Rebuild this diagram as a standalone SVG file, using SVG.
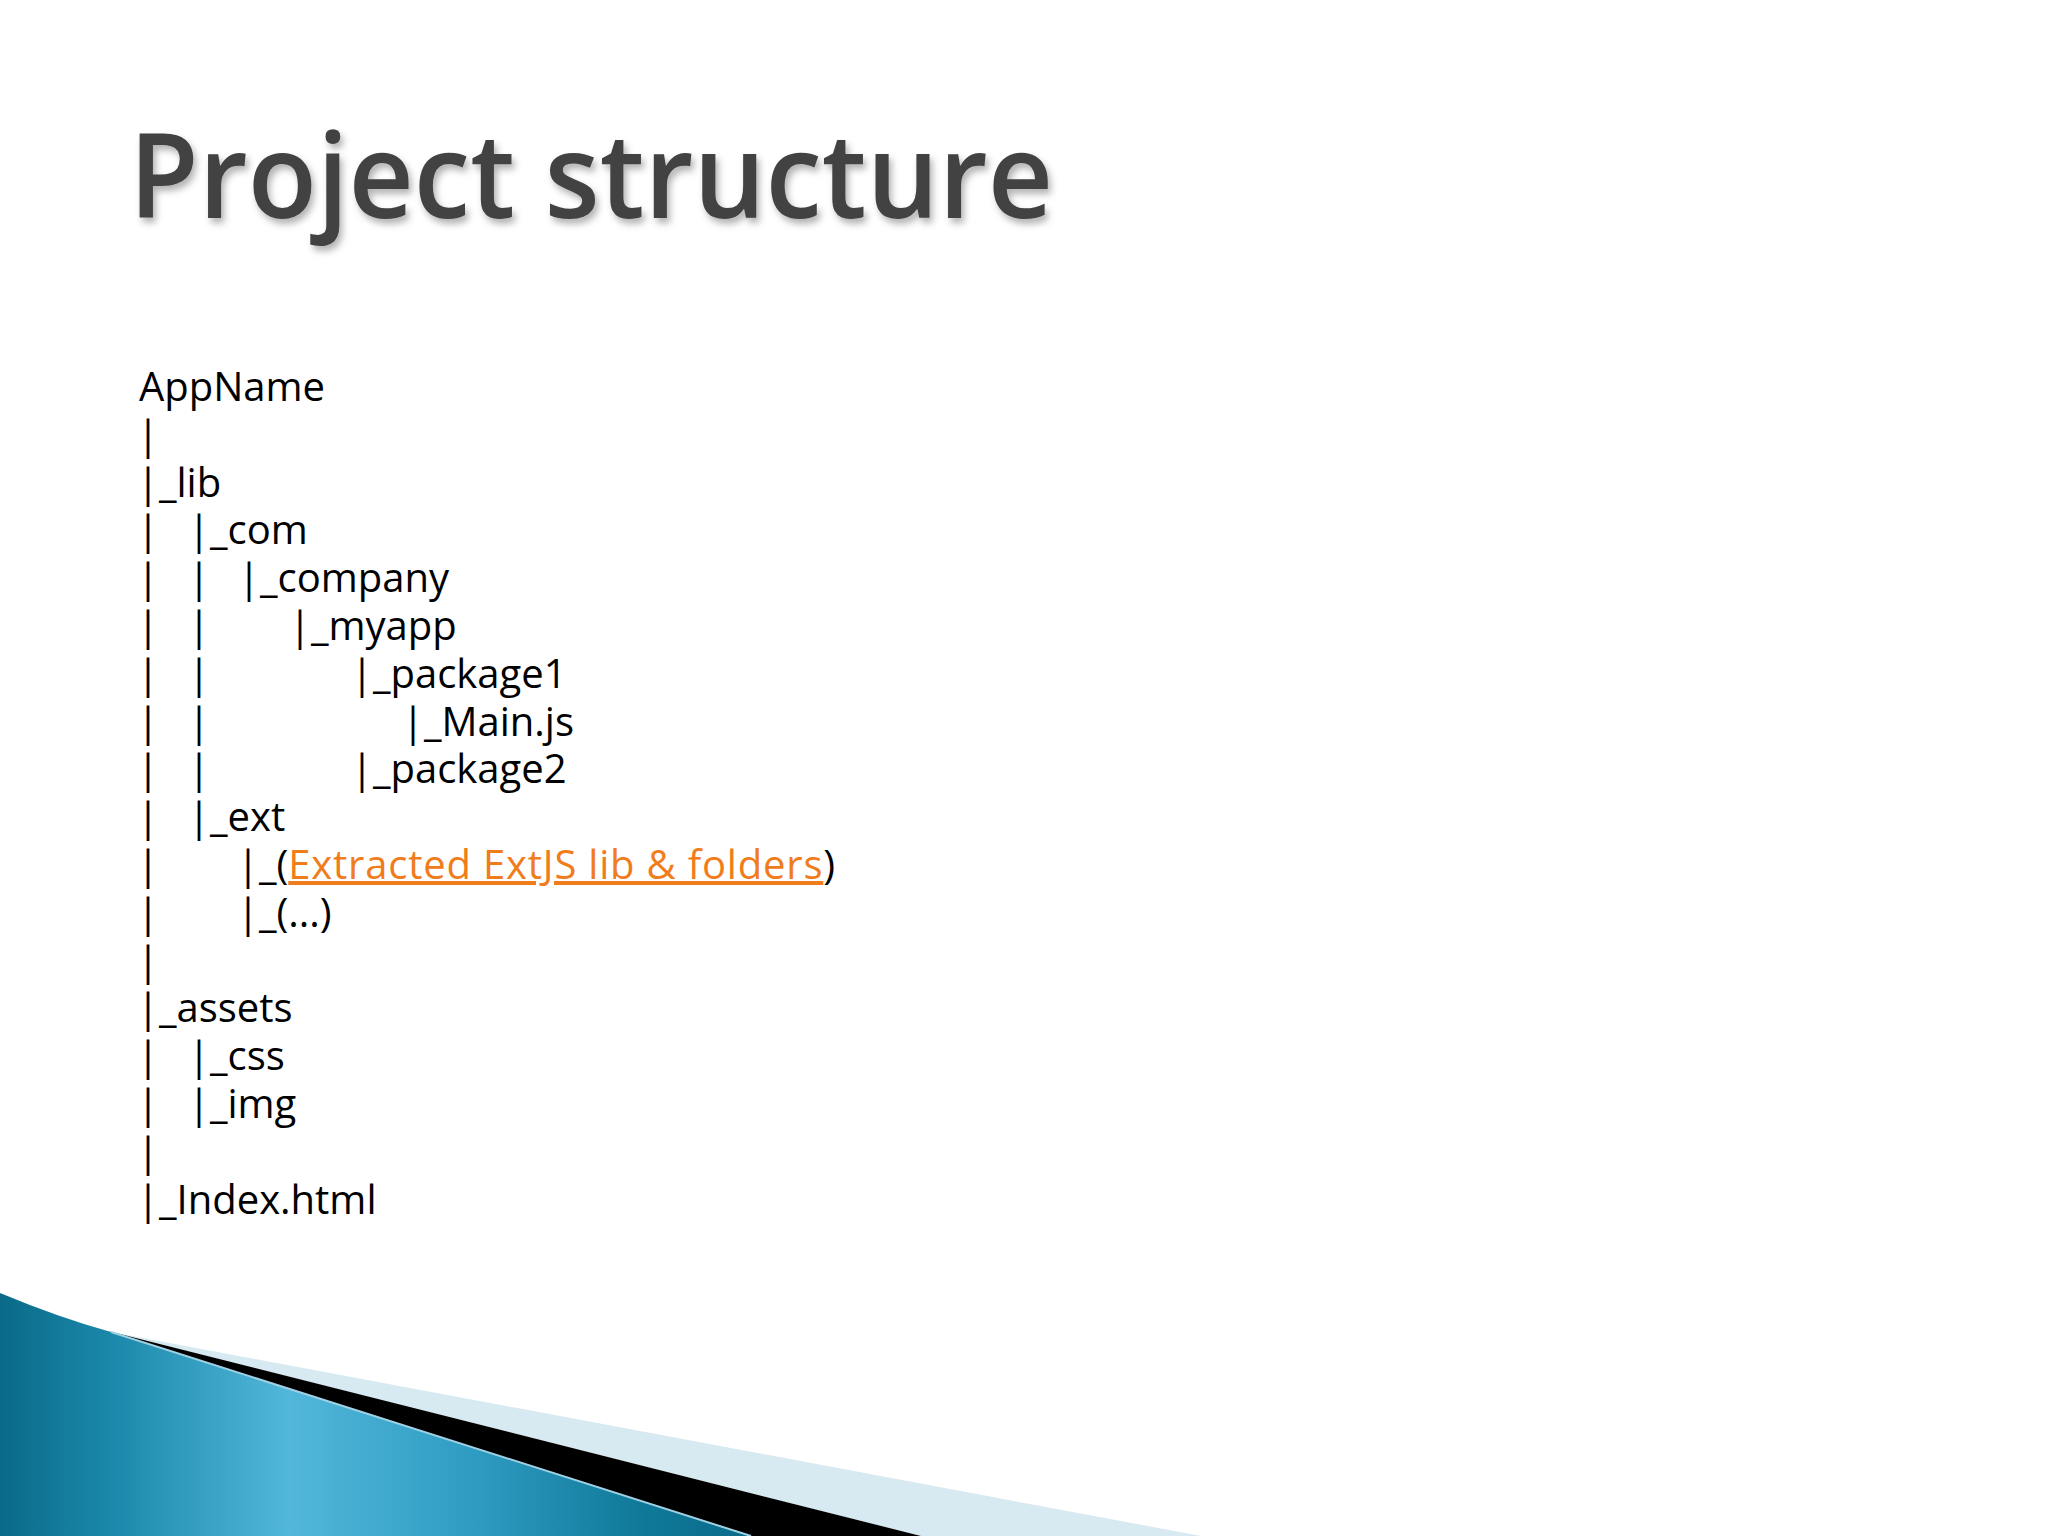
<svg xmlns="http://www.w3.org/2000/svg" width="2048" height="1536" viewBox="0 0 2048 1536">
<defs>
<style>
.t{font-family:"Open Sans","DejaVu Sans",sans-serif;font-size:40px;fill:#000}
.link{fill:#f07c1c;text-decoration:underline;letter-spacing:0.8px}
.title{font-family:"Open Sans","DejaVu Sans",sans-serif;font-size:118px;font-weight:600;fill:#424242}
</style>
<filter id="sh" x="-5%" y="-20%" width="110%" height="150%">
<feDropShadow dx="3" dy="5" stdDeviation="3.5" flood-color="#000" flood-opacity="0.3"/>
</filter>
<linearGradient id="teal" x1="0" y1="0" x2="760" y2="0" gradientUnits="userSpaceOnUse">
<stop offset="0" stop-color="#0a6a88"/>
<stop offset="0.15" stop-color="#1b89ab"/>
<stop offset="0.38" stop-color="#52b7da"/>
<stop offset="0.62" stop-color="#2f9cc2"/>
<stop offset="0.85" stop-color="#0f7898"/>
<stop offset="1" stop-color="#0a6a88"/>
</linearGradient>
</defs>
<rect width="2048" height="1536" fill="#fff"/>
<g id="swoosh">
<polygon points="111,1332 1201,1536 921,1536" fill="#d7e9f1"/>
<polygon points="108,1331 921,1536 751,1536" fill="#000"/>
<path d="M0,1293 Q60,1318 111,1332 L751,1536 L0,1536 Z" fill="url(#teal)"/>
<line x1="111" y1="1332" x2="751" y2="1536" stroke="#9fd0e3" stroke-width="2"/>
</g>
<g id="title">
<text class="title" x="129" y="218" textLength="924" lengthAdjust="spacingAndGlyphs" filter="url(#sh)">Project structure</text>
</g>
<g id="tree">
<text class="t"><tspan x="139" y="401">AppName</tspan><tspan x="137" y="449">|</tspan><tspan x="137" y="497">|_lib</tspan><tspan x="137" y="544">|</tspan><tspan x="188" y="544">|_com</tspan><tspan x="137" y="592">|</tspan><tspan x="188" y="592">|</tspan><tspan x="238" y="592">|_company</tspan><tspan x="137" y="640">|</tspan><tspan x="188" y="640">|</tspan><tspan x="289" y="640">|_myapp</tspan><tspan x="137" y="688">|</tspan><tspan x="188" y="688">|</tspan><tspan x="351" y="688">|_package1</tspan><tspan x="137" y="736">|</tspan><tspan x="188" y="736">|</tspan><tspan x="402" y="736">|_Main.js</tspan><tspan x="137" y="783">|</tspan><tspan x="188" y="783">|</tspan><tspan x="351" y="783">|_package2</tspan><tspan x="137" y="831">|</tspan><tspan x="188" y="831">|_ext</tspan><tspan x="137" y="879">|</tspan><tspan x="237" y="879">|_(</tspan><tspan class="link">Extracted ExtJS lib &amp; folders</tspan><tspan>)</tspan><tspan x="137" y="927">|</tspan><tspan x="237" y="927">|_(...)</tspan><tspan x="137" y="975">|</tspan><tspan x="137" y="1022">|_assets</tspan><tspan x="137" y="1070">|</tspan><tspan x="188" y="1070">|_css</tspan><tspan x="137" y="1118">|</tspan><tspan x="188" y="1118">|_img</tspan><tspan x="137" y="1166">|</tspan><tspan x="137" y="1214">|_Index.html</tspan></text>
</g>
</svg>
